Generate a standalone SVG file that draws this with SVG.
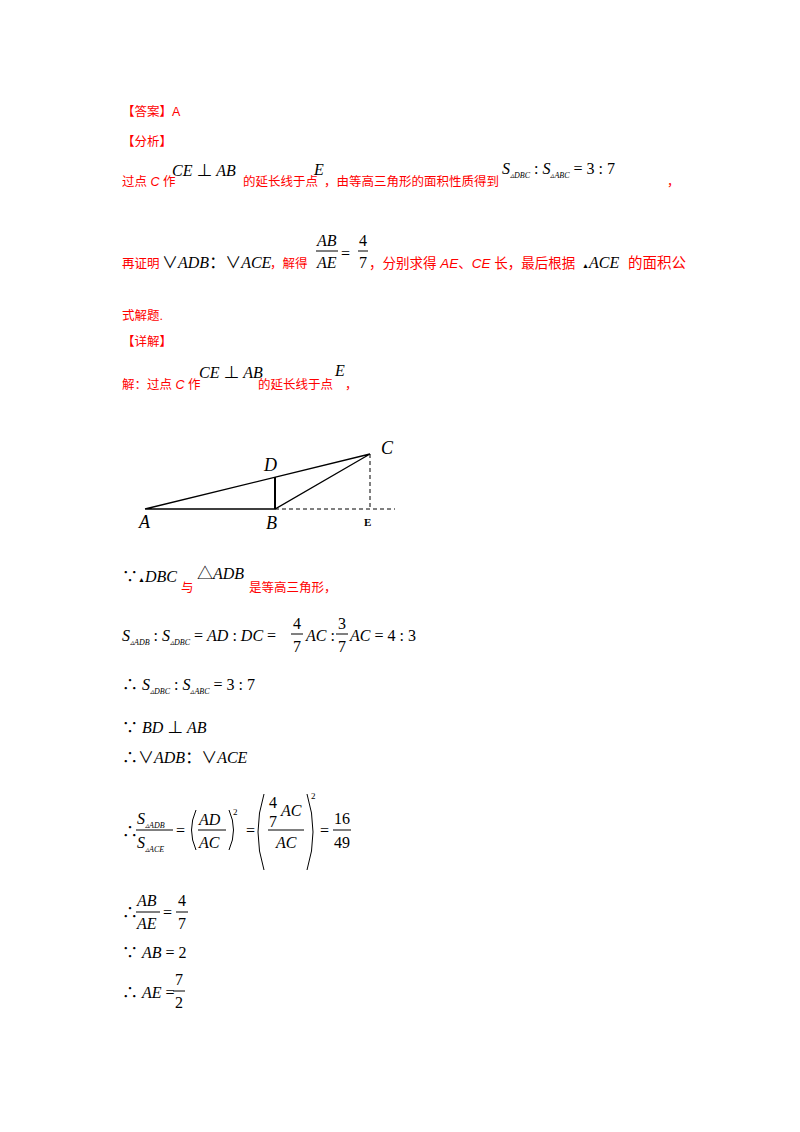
<svg xmlns="http://www.w3.org/2000/svg" width="800" height="1132" viewBox="0 0 800 1132">
<style>
.r{font-family:"Liberation Sans","Noto Sans CJK SC",sans-serif;font-size:12.5px;fill:#ff0000}
.m{font-family:"Liberation Serif","Noto Sans CJK SC",serif;font-size:16px;font-style:italic;fill:#000}
.n{font-family:"Liberation Serif","Noto Sans CJK SC",serif;font-size:16px;font-style:normal;fill:#000}
.s{font-family:"Liberation Serif",serif;font-size:8px;font-style:italic;fill:#000}
.sup{font-family:"Liberation Serif",serif;font-size:9px;fill:#000}
.ln{stroke:#000;stroke-width:1}
.lab{font-family:"Liberation Serif",serif;font-size:18px;font-style:italic;fill:#000}
</style>
<rect width="800" height="1132" fill="#fff"/>
<g id="text">
<text class="r" x="122" y="116">【答案】A</text>
<text class="r" x="122" y="146">【分析】</text>
<text class="r" x="122" y="186">过点 <tspan font-style="italic">C</tspan> 作</text>
<text class="m" x="172" y="176">CE <tspan class="n">⊥</tspan> AB</text>
<text class="r" x="243" y="186">的延长线于点</text>
<text class="m" x="314" y="175">E</text>
<text class="r" x="324" y="186">，由等高三角形的面积性质得到</text>
<text class="m" x="502" y="174">S<tspan class="s" dy="4">▵DBC</tspan><tspan class="n" dy="-4"> : </tspan>S<tspan class="s" dy="4">▵ABC</tspan><tspan class="n" dy="-4"> = 3 : 7</tspan></text>
<text class="r" x="667" y="186">，</text>

<text class="r" x="122" y="268">再证明</text>
<text class="m" x="162" y="268"><tspan class="n" font-family="Liberation Sans">∨</tspan>ADB<tspan class="n">：</tspan><tspan class="n" font-family="Liberation Sans">∨</tspan>ACE</text>
<text class="r" x="270" y="268">，解得</text>
<text class="m" x="317" y="246">AB</text>
<line class="ln" x1="316" y1="251" x2="338" y2="251"/>
<text class="m" x="317" y="268">AE</text>
<text class="n" x="341" y="259">=</text>
<text class="n" x="359" y="246">4</text>
<line class="ln" x1="358" y1="251" x2="368" y2="251"/>
<text class="n" x="359" y="268">7</text>
<text class="r" x="369" y="268" style="font-size:13.5px">，分别求得 <tspan font-style="italic">AE</tspan>、<tspan font-style="italic">CE</tspan> 长，最后根据</text>
<text class="m" x="582" y="268"><tspan style="font-size:7px">▲</tspan>ACE</text>
<text class="r" x="628" y="268" style="font-size:14.5px">的面积公</text>
<text class="r" x="122" y="320">式解题.</text>
<text class="r" x="122" y="346">【详解】</text>
<text class="r" x="122" y="389">解：过点 <tspan font-style="italic">C</tspan> 作</text>
<text class="m" x="199" y="378">CE <tspan class="n">⊥</tspan> AB</text>
<text class="r" x="258" y="389">的延长线于点</text>
<text class="m" x="335" y="376">E</text>
<text class="r" x="345" y="389">，</text>
</g>

<g id="figure">
<polyline points="145,509 370,454 275,509 145,509" fill="none" stroke="#000" stroke-width="1.3"/>
<line x1="275" y1="509" x2="275" y2="477" stroke="#000" stroke-width="2"/>
<line x1="275" y1="509" x2="395" y2="509" stroke="#000" stroke-width="1" stroke-dasharray="4,3"/>
<line x1="370" y1="454" x2="370" y2="509" stroke="#000" stroke-width="1" stroke-dasharray="4,3"/>
<text class="lab" x="139" y="528">A</text>
<text class="lab" x="266" y="529">B</text>
<text class="lab" x="264" y="471">D</text>
<text class="lab" x="381" y="454">C</text>
<text x="364" y="526" font-family="Liberation Serif" font-size="11" font-weight="bold">E</text>
</g>

<g id="solution">
<text class="n" x="122" y="582">∵<tspan style="font-size:7px">▲</tspan><tspan font-style="italic">DBC</tspan></text>
<text class="r" x="181" y="592">与</text>
<text class="m" x="197" y="579"><tspan class="n">△</tspan>ADB</text>
<text class="r" x="249" y="592">是等高三角形，</text>

<text class="m" x="122" y="641">S<tspan class="s" dy="4">▵ADB</tspan><tspan class="n" dy="-4"> : </tspan>S<tspan class="s" dy="4">▵DBC</tspan><tspan dy="-4"><tspan class="n"> = </tspan>AD<tspan class="n"> : </tspan>DC<tspan class="n"> =</tspan></tspan></text>
<text class="n" x="293" y="629">4</text>
<line class="ln" x1="291" y1="634" x2="303" y2="634"/>
<text class="n" x="293" y="652">7</text>
<text class="m" x="306" y="641">AC<tspan class="n"> :</tspan></text>
<text class="n" x="338" y="629">3</text>
<line class="ln" x1="336" y1="634" x2="348" y2="634"/>
<text class="n" x="338" y="652">7</text>
<text class="m" x="350" y="641">AC<tspan class="n"> = 4 : 3</tspan></text>

<text class="m" x="122" y="690"><tspan class="n">∴ </tspan>S<tspan class="s" dy="4">▵DBC</tspan><tspan class="n" dy="-4"> : </tspan>S<tspan class="s" dy="4">▵ABC</tspan><tspan class="n" dy="-4"> = 3 : 7</tspan></text>
<text class="m" x="122" y="733"><tspan class="n">∵ </tspan>BD <tspan class="n">⊥</tspan> AB</text>
<text class="m" x="122" y="763"><tspan class="n">∴</tspan><tspan class="n" font-family="Liberation Sans">∨</tspan>ADB<tspan class="n">：</tspan><tspan class="n" font-family="Liberation Sans">∨</tspan>ACE</text>

<text class="n" x="122" y="837">∴</text>
<text class="m" x="137" y="824">S<tspan class="s" dy="4">▵ADB</tspan></text>
<line class="ln" x1="136" y1="830" x2="173" y2="830"/>
<text class="m" x="137" y="848">S<tspan class="s" dy="4">▵ACE</tspan></text>
<text class="n" x="176" y="836">=</text>
<path d="M196,810 Q187,830 196,850" fill="none" stroke="#000" stroke-width="1"/>
<text class="m" x="199" y="825">AD</text>
<line class="ln" x1="198" y1="830" x2="226" y2="830"/>
<text class="m" x="199" y="848">AC</text>
<path d="M229,810 Q238,830 229,850" fill="none" stroke="#000" stroke-width="1"/>
<text class="sup" x="233" y="815">2</text>
<text class="n" x="246" y="836">=</text>
<path d="M264,794 Q252,832 264,870" fill="none" stroke="#000" stroke-width="1"/>
<text class="n" x="269" y="808">4</text>
<text class="m" x="281" y="816">AC</text>
<text class="n" x="269" y="827">7</text>
<line class="ln" x1="268" y1="830" x2="304" y2="830"/>
<text class="m" x="276" y="848">AC</text>
<path d="M307,794 Q319,832 307,870" fill="none" stroke="#000" stroke-width="1"/>
<text class="sup" x="311" y="799">2</text>
<text class="n" x="320" y="836">=</text>
<text class="n" x="334" y="824">16</text>
<line class="ln" x1="333" y1="830" x2="351" y2="830"/>
<text class="n" x="334" y="848">49</text>

<text class="n" x="122" y="918">∴</text>
<text class="m" x="137" y="906">AB</text>
<line class="ln" x1="136" y1="912" x2="160" y2="912"/>
<text class="m" x="137" y="929">AE</text>
<text class="n" x="163" y="918">=</text>
<text class="n" x="178" y="906">4</text>
<line class="ln" x1="176" y1="912" x2="188" y2="912"/>
<text class="n" x="178" y="929">7</text>

<text class="m" x="122" y="958"><tspan class="n">∵ </tspan>AB<tspan class="n"> = 2</tspan></text>

<text class="m" x="122" y="998"><tspan class="n">∴ </tspan>AE<tspan class="n"> =</tspan></text>
<text class="n" x="175" y="985">7</text>
<line class="ln" x1="173" y1="991" x2="185" y2="991"/>
<text class="n" x="175" y="1008">2</text>
</g>
</svg>
